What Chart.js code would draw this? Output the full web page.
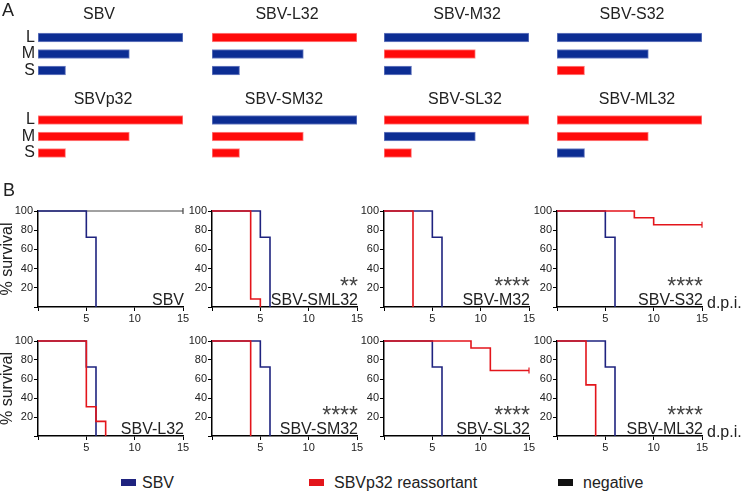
<!DOCTYPE html>
<html><head><meta charset="utf-8">
<script src="https://cdn.jsdelivr.net/npm/chart.js"></script>
<style>
html,body{margin:0;padding:0;background:#fff;}
#fig{position:relative;width:750px;height:492px;overflow:hidden;font-family:'Liberation Sans',Arial,sans-serif;color:#222;}
#fig canvas{position:absolute;}
.txt{position:absolute;white-space:nowrap;}
.box{position:absolute;}
</style></head><body><div id="fig"></div>
<script>
// ---------------- DATA ----------------
// Panel A: genome segment schematic (relative lengths)
const segments = ['L', 'M', 'S'];
const segmentLengths = [100, 63, 19];
const constructs = ['SBV', 'SBV-L32', 'SBV-M32', 'SBV-S32', 'SBVp32', 'SBV-SM32', 'SBV-SL32', 'SBV-ML32'];
const segmentOrigin = [
  ['SBV', 'SBV', 'SBV'],
  ['p32', 'SBV', 'SBV'],
  ['SBV', 'p32', 'SBV'],
  ['SBV', 'SBV', 'p32'],
  ['p32', 'p32', 'p32'],
  ['SBV', 'p32', 'p32'],
  ['p32', 'SBV', 'p32'],
  ['p32', 'p32', 'SBV']
];
// Panel B: survival curves
const survivalPanels = ['SBV', 'SBV-SML32', 'SBV-M32', 'SBV-S32', 'SBV-L32', 'SBV-SM32', 'SBV-SL32', 'SBV-ML32'];
const significance = ['', '**', '****', '****', '', '****', '****', '****'];
const sbvDays = [0, 5, 6];
const sbvSurvival = [100, 72.7, 0];
const reassortantDays = [null, [0, 4, 5], [0, 3], [0, 8, 10, 15], [0, 5, 6, 7], [0, 4], [0, 9, 11, 15], [0, 3, 4]];
const reassortantSurvival = [null, [100, 8.3, 0], [100, 0], [100, 92.9, 85.7, 85.7], [100, 30.8, 15.4, 0], [100, 0], [100, 92.6, 69, 69], [100, 53.8, 0]];
const negativeDays = [0, 15];
const negativeSurvival = [100, 100];
const negativePanel = 'SBV';
const seriesNames = ['SBV', 'SBVp32 reassortant', 'negative'];
const xTickValues = [0, 5, 10, 15];
const yTickValues = [0, 20, 40, 60, 80, 100];

// ---------------- STYLE / LAYOUT ----------------
const FONT = "'Liberation Sans', Arial, sans-serif";
Chart.defaults.font.family = FONT;
const barBlue = '#0c2d93', barBlueEdge = '#7283c4';
const barRed = '#ff0a0a', barRedEdge = '#ff8a8a';
const lineBlue = '#1f237f', lineRed = '#e3151b', lineNeg = '#444';
const seriesColors = [lineBlue, lineRed, '#111'];
const colX = [38, 212, 384, 557];
const plotW = 145;
const fig = document.getElementById('fig');

function addCanvas(left, top, w, h) {
  const c = document.createElement('canvas');
  c.width = w; c.height = h;
  c.style.left = left + 'px'; c.style.top = top + 'px';
  c.style.width = w + 'px'; c.style.height = h + 'px';
  fig.appendChild(c);
  return c;
}
function addText(text, left, top, size, extra) {
  const d = document.createElement('div');
  d.className = 'txt';
  d.textContent = text;
  d.style.left = left + 'px'; d.style.top = top + 'px';
  d.style.fontSize = size + 'px'; d.style.lineHeight = size + 'px';
  if (extra) Object.assign(d.style, extra);
  fig.appendChild(d);
  return d;
}
function annotPlugin(items) {
  return {
    id: 'annot',
    afterDraw(chart) {
      const ctx = chart.ctx, a = chart.chartArea;
      ctx.save();
      items.forEach(it => {
        ctx.font = it.font;
        ctx.fillStyle = it.color || '#222';
        ctx.textAlign = it.align || 'left';
        ctx.textBaseline = it.baseline || 'alphabetic';
        const x = it.ax === 'right' ? a.right + it.dx : it.ax === 'center' ? (a.left + a.right) / 2 + it.dx : a.left + it.dx;
        const y = it.ay === 'top' ? a.top + it.dy : a.bottom + it.dy;
        ctx.fillText(it.text, x, y);
      });
      ctx.restore();
    }
  };
}

// ---------------- PANEL A ----------------
const aRowTop = [29.25, 111.75];
const aAreaH = 49.5;
const aTitleDx = [-11.5, 2.5, 10.5, 2.5, -7.5, -0.5, 8.5, 7.5];
const aTitleDy = [-14.25, -11.75];

constructs.forEach((name, i) => {
  const r = Math.floor(i / 4), c = i % 4;
  const yW = c === 0 ? 26 : 0;
  const left = colX[c] - yW;
  const w = yW + plotW + 3;
  const top = Math.floor(aRowTop[r] - 26);
  const padTop = aRowTop[r] - top;
  const h = Math.ceil(padTop + aAreaH + 14);
  const padBottom = h - padTop - aAreaH;
  const cv = addCanvas(left, top, w, h);
  new Chart(cv, {
    type: 'bar',
    data: {
      labels: segments,
      datasets: [{
        data: segmentLengths,
        backgroundColor: segmentOrigin[i].map(o => o === 'SBV' ? barBlue : barRed),
        borderColor: segmentOrigin[i].map(o => o === 'SBV' ? barBlueEdge : barRedEdge),
        borderWidth: 1,
        borderSkipped: false,
        barThickness: 9
      }]
    },
    options: {
      indexAxis: 'y',
      responsive: false,
      animation: false,
      devicePixelRatio: 1,
      layout: { padding: { left: 0, right: 3, top: padTop, bottom: padBottom } },
      plugins: { legend: { display: false }, tooltip: { enabled: false }, title: { display: false } },
      scales: {
        x: { type: 'linear', min: 0, max: 100, display: false },
        y: {
          display: c === 0,
          ticks: { font: { size: 16 }, color: '#222', padding: 3, autoSkip: false },
          grid: { display: false, drawTicks: false },
          border: { display: false },
          afterFit: s => { s.width = yW; }
        }
      }
    },
    plugins: [annotPlugin([{ text: name, font: '16px ' + FONT, align: 'center', ax: 'center', dx: aTitleDx[i], ay: 'top', dy: aTitleDy[r], baseline: 'middle' }])]
  });
});

// ---------------- PANEL B ----------------
const bRowTop = [211, 341], bRowBottom = [307, 436];

function series(days, surv, color, width) {
  return {
    data: days.map((d, k) => ({ x: d, y: surv[k] })),
    borderColor: color,
    borderWidth: width,
    stepped: 'before',
    fill: false,
    tension: 0,
    clip: false,
    pointRadius: days.map(d => d === 15 ? 3 : 0),
    pointStyle: 'line',
    rotation: 90,
    pointBorderColor: color,
    pointBorderWidth: 1.2
  };
}

survivalPanels.forEach((name, i) => {
  const r = Math.floor(i / 4), c = i % 4;
  const yW = c === 0 ? 40 : 30;
  const padTop = 12, padRight = 12, xH = 20;
  const left = colX[c] - yW, top = bRowTop[r] - padTop;
  const w = yW + plotW + padRight;
  const h = padTop + (bRowBottom[r] - bRowTop[r]) + xH;
  const cv = addCanvas(left, top, w, h);
  const datasets = [];
  if (reassortantDays[i]) datasets.push(series(reassortantDays[i], reassortantSurvival[i], lineRed, 1.6));
  datasets.push(series(sbvDays, sbvSurvival, lineBlue, 1.6));
  if (name === negativePanel) datasets.push(series(negativeDays, negativeSurvival, lineNeg, 1));
  const items = [{ text: name, font: '16px ' + FONT, align: 'right', ax: 'right', dx: 1, ay: 'bottom', dy: -2.5 }];
  if (significance[i]) items.push({ text: significance[i], font: '23px ' + FONT, color: '#444', align: 'right', ax: 'right', dx: 1, ay: 'bottom', dy: -13 });
  new Chart(cv, {
    type: 'line',
    data: { datasets },
    options: {
      responsive: false,
      animation: false,
      devicePixelRatio: 1,
      layout: { padding: { left: 0, right: padRight, top: padTop, bottom: 0 } },
      plugins: { legend: { display: false }, tooltip: { enabled: false } },
      scales: {
        x: {
          type: 'linear', min: 0, max: 15,
          afterBuildTicks: s => { s.ticks = xTickValues.map(v => ({ value: v })); },
          ticks: { callback: v => v === 0 ? '' : String(v), font: { size: 11 }, color: '#222', padding: 1, autoSkip: false, maxRotation: 0 },
          grid: { drawOnChartArea: false, drawTicks: true, tickLength: 4, color: '#000', lineWidth: 1 },
          border: { display: true, color: '#000', width: 1.5 },
          afterFit: s => { s.height = xH; }
        },
        y: {
          type: 'linear', min: 0, max: 100,
          afterBuildTicks: s => { s.ticks = yTickValues.map(v => ({ value: v })); },
          ticks: { callback: v => v === 0 ? '' : String(v), font: { size: 11 }, color: '#222', padding: 1 },
          grid: { drawOnChartArea: false, drawTicks: true, tickLength: 4, color: '#000', lineWidth: 1 },
          border: { display: true, color: '#000', width: 1.5 },
          title: { display: c === 0, text: '% survival', font: { size: 16 }, color: '#222', padding: { top: 0, bottom: 0 } },
          afterFit: s => { s.width = yW; }
        }
      }
    },
    plugins: [annotPlugin(items)]
  });
});

// ---------------- TEXT LABELS & LEGEND ----------------
addText('A', 2, 1, 18);
addText('B', 3, 181, 18);
addText('d.p.i.', 707, 294.5, 16);
addText('d.p.i.', 707, 423.5, 16);

const legendBoxX = [121, 309, 558];
const legendTextX = [142, 334, 583];
seriesNames.forEach((n, k) => {
  const b = document.createElement('div');
  b.className = 'box';
  Object.assign(b.style, { left: legendBoxX[k] + 'px', top: '479px', width: '15px', height: '7px', background: seriesColors[k] });
  fig.appendChild(b);
  addText(n, legendTextX[k], 475, 16);
});
</script>
</body></html>
